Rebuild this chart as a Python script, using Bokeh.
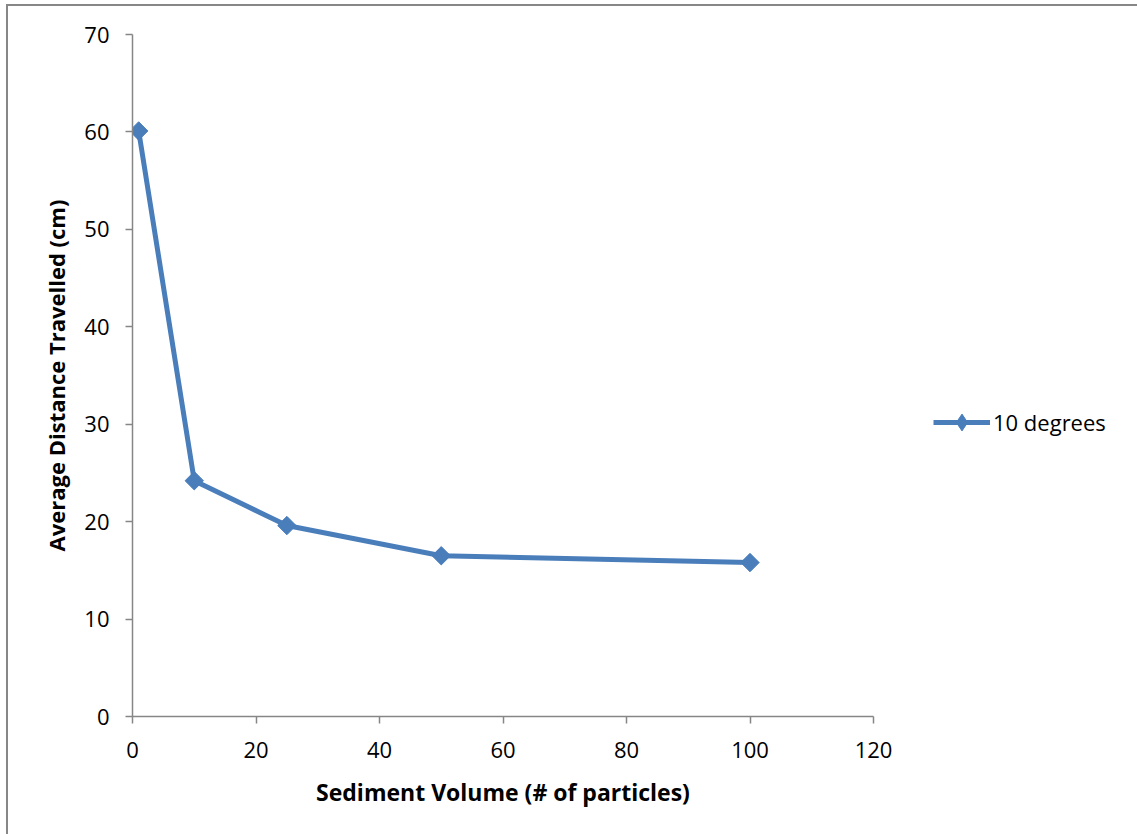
from bokeh.plotting import figure
from bokeh.models import Range1d, FixedTicker, Legend, LegendItem
from bokeh.embed import file_html
from bokeh.resources import INLINE
import math

# Sediment runs at a 10 degree slope
volume = [1, 10, 25, 50, 100]
distance = [60.1, 24.2, 19.6, 16.5, 15.8]
series_name = "10 degrees"

x_ticks = [0, 20, 40, 60, 80, 100, 120]
y_ticks = [0, 10, 20, 30, 40, 50, 60, 70]

FONT = "Open Sans"
BLUE = "#4A7EBB"
AXIS_GREY = "#868686"

p = figure(
    frame_width=741, frame_height=682,
    output_backend="svg", toolbar_location=None,
    x_range=Range1d(0, 120), y_range=Range1d(0, 70),
    min_border_left=124, min_border_right=0,
    min_border_top=28, min_border_bottom=118,
    margin=(4, 0, 0, 6),
    styles={"border-top": "2px solid #878787", "border-left": "2px solid #878787"},
)
p.outline_line_color = None
p.grid.visible = False
p.background_fill_color = "white"
p.border_fill_color = "white"

for ax, ticks in ((p.xaxis[0], x_ticks), (p.yaxis[0], y_ticks)):
    ax.ticker = FixedTicker(ticks=ticks)
    ax.axis_line_color = AXIS_GREY
    ax.axis_line_width = 1.5
    ax.major_tick_line_color = AXIS_GREY
    ax.major_tick_line_width = 1.5
    ax.major_tick_in = 0
    ax.major_tick_out = 7
    ax.minor_tick_line_color = None
    ax.major_label_text_font = FONT
    ax.major_label_text_font_size = "22px"
    ax.major_label_text_color = "black"
    ax.axis_label_text_font = FONT
    ax.axis_label_text_font_size = "22px"
    ax.axis_label_text_font_style = "bold"
    ax.axis_label_text_color = "black"

p.xaxis.axis_label = "Sediment Volume (# of particles)"
p.yaxis.axis_label = "Average Distance Travelled (cm)"
p.xaxis.axis_label_text_font_size = "23px"
p.xaxis.major_label_standoff = 18
p.yaxis.major_label_standoff = 16
p.xaxis.axis_label_standoff = 15
p.yaxis.axis_label_standoff = 10

line = p.line(volume, distance, line_color=BLUE, line_width=5, line_join="round")
# narrow diamonds (used by the legend key) sit under the plotted markers
key_marks = p.scatter(volume, distance, marker="diamond", size=16,
                      fill_color=BLUE, line_color=BLUE)
marks = p.scatter(volume, distance, marker="square", size=13, angle=math.pi / 4,
                  fill_color=BLUE, line_color=BLUE, line_width=1)

# legend sits in the right-hand panel, beside the plot area
legend = Legend(
    items=[LegendItem(label=series_name, renderers=[line, key_marks])],
    location=(60, 273),
    glyph_width=57, glyph_height=42,
    label_standoff=3, padding=0, spacing=0, margin=0,
    border_line_color=None, background_fill_alpha=0,
    label_text_font=FONT, label_text_font_size="22px", label_text_color="black",
)
p.add_layout(legend, "right")

open("out.html", "w").write(file_html(p, INLINE))
